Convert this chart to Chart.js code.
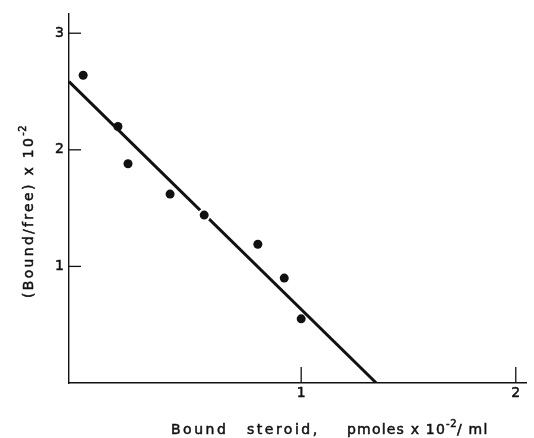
<!DOCTYPE html>
<html>
<head>
<meta charset="utf-8">
<script src="https://cdn.jsdelivr.net/npm/chart.js@4"></script>
<style>
  html, body { margin: 0; padding: 0; background: #ffffff; }
  canvas { display: block; }
</style>
</head>
<body>
<canvas id="scatchard" width="534" height="438"></canvas>
<script>
// Bound steroid (pmoles x 10^-2 / ml) vs bound/free ratio (x 10^-2)
const boundSteroid = [-0.016, 0.146, 0.193, 0.389, 0.548, 0.798, 0.921, 1.0];
const boundFreeRatio = [2.64, 2.20, 1.88, 1.62, 1.44, 1.19, 0.90, 0.55];

// Fitted regression line end points
const fitX = [-0.082, 1.35];
const fitY = [2.585, 0];

// Labelled ticks
const xTickValues = [1, 2];
const yTickValues = [1, 2, 3];

const INK = '#111111';
const FONT = '"DejaVu Sans", "Liberation Sans", sans-serif';

// Draws a sequence of text runs (with optional superscripts) using letter spacing
function drawRuns(ctx, runs, x, y, spacing) {
  let cx = x;
  for (const r of runs) {
    ctx.font = (r.size || 14) + 'px ' + FONT;
    ctx.letterSpacing = (r.spacing != null ? r.spacing : spacing) + 'px';
    ctx.fillText(r.text, cx, y - (r.rise || 0));
    ctx.strokeText(r.text, cx, y - (r.rise || 0));
    cx += ctx.measureText(r.text).width;
  }
}

const axisDecor = {
  id: 'axisDecor',
  beforeDraw(chart) {
    const ctx = chart.ctx;
    ctx.save();
    ctx.fillStyle = '#ffffff';
    ctx.fillRect(0, 0, chart.width, chart.height);
    ctx.restore();
  },
  afterDraw(chart) {
    const ctx = chart.ctx;
    const xs = chart.scales.x, ys = chart.scales.y;
    const area = chart.chartArea;
    ctx.save();
    ctx.strokeStyle = INK;
    ctx.lineWidth = 1.3;
    // inward tick marks on the y axis
    yTickValues.forEach(v => {
      const py = ys.getPixelForValue(v);
      ctx.beginPath();
      ctx.moveTo(area.left, py);
      ctx.lineTo(area.left + 12, py);
      ctx.stroke();
    });
    // upward tick marks on the x axis
    xTickValues.forEach(v => {
      const px = xs.getPixelForValue(v);
      ctx.beginPath();
      ctx.moveTo(px, area.bottom);
      ctx.lineTo(px, area.bottom - 16);
      ctx.stroke();
    });

    ctx.fillStyle = INK;
    ctx.lineWidth = 0.5;
    ctx.textAlign = 'left';
    ctx.textBaseline = 'alphabetic';
    // x axis title
    drawRuns(ctx, [{ text: 'Bound' }], 171, 434, 2.5);
    drawRuns(ctx, [{ text: 'steroid,' }], 247, 434, 2.5);
    drawRuns(ctx, [
      { text: 'pmoles x 10' },
      { text: '-2', size: 10, rise: 7, spacing: 0.5 },
      { text: '/ ml' }
    ], 347, 434, 1.2);

    // y axis title, rotated
    ctx.translate(33, 298);
    ctx.rotate(-Math.PI / 2);
    drawRuns(ctx, [
      { text: '(Bound/free) x 10' },
      { text: '-2', size: 10, rise: 7, spacing: 0.5 }
    ], 0, 0, 2.3);
    ctx.restore();
  }
};

new Chart(document.getElementById('scatchard'), {
  data: {
    datasets: [
      {
        type: 'line',
        data: fitX.map((x, i) => ({ x, y: fitY[i] })),
        borderColor: INK,
        borderWidth: 3,
        pointRadius: 0,
        fill: false,
        order: 2
      },
      {
        type: 'scatter',
        data: boundSteroid.map((x, i) => ({ x, y: boundFreeRatio[i] })),
        backgroundColor: INK,
        borderColor: '#ffffff',
        borderWidth: boundSteroid.map((_, i) => (i === 4 ? 2 : 0)),
        pointRadius: boundSteroid.map((_, i) => (i === 4 ? 5.5 : 4.5)),
        order: 1
      }
    ]
  },
  options: {
    responsive: false,
    animation: false,
    devicePixelRatio: 1,
    layout: { padding: { top: 10, right: 4, left: 0, bottom: 0 } },
    plugins: { legend: { display: false }, tooltip: { enabled: false } },
    scales: {
      x: {
        type: 'linear',
        min: -0.082,
        max: 2.05,
        grid: { display: false, drawTicks: false },
        border: { display: true, color: INK, width: 1.4 },
        afterBuildTicks: s => { s.ticks = xTickValues.map(v => ({ value: v })); },
        afterFit: s => { s.height = 55; },
        ticks: {
          padding: 2,
          color: INK,
          textStrokeColor: INK,
          textStrokeWidth: 0.5,
          font: { family: FONT, size: 14 },
          maxRotation: 0,
          callback: v => String(v)
        }
      },
      y: {
        type: 'linear',
        min: 0,
        max: 3.17,
        grid: { display: false, drawTicks: false },
        border: { display: true, color: INK, width: 1.4 },
        afterBuildTicks: s => { s.ticks = yTickValues.map(v => ({ value: v })); },
        afterFit: s => { s.width = 69; },
        ticks: {
          padding: 5,
          color: INK,
          textStrokeColor: INK,
          textStrokeWidth: 0.5,
          font: { family: FONT, size: 14 },
          callback: v => String(v)
        }
      }
    }
  },
  plugins: [axisDecor]
});
</script>
</body>
</html>
